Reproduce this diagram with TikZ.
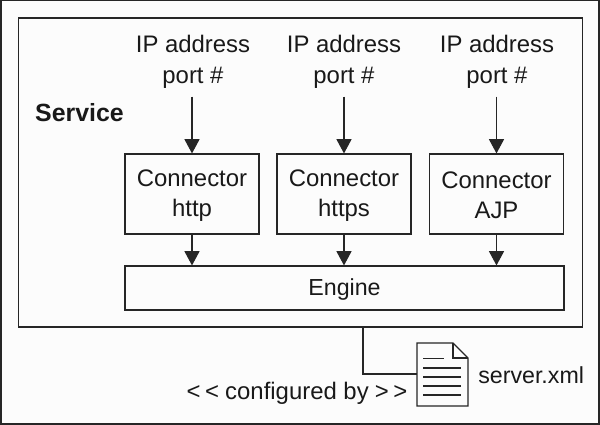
\documentclass[tikz,border=0pt]{standalone}
\usepackage{fontspec}
\setmainfont{Liberation Sans}
\usetikzlibrary{arrows.meta}

\newcommand{\topStrut}[1]{\rule{0pt}{#1}}

\tikzstyle{bagText} = [align = center, inner sep = 0pt,
                       text = black!90,
                       font = \fontsize{17}{22}\selectfont
                       ]
\tikzstyle{bagBox} = [bagText, draw = black!85, line width = 0.8pt,
                      minimum height = 2cm, minimum width = 3.35cm,
                      font = \fontsize{17}{21.5}\selectfont
                      ]
\tikzstyle{bagArrow} = [draw = black!85, line width = 0.8pt,
                        -{Triangle[length = 3.6mm, width = 3.8mm]}
                        ]
\tikzstyle{bagLine} = [draw = black!85, line width = 0.8pt]

\begin{document}
\begin{tikzpicture}[x = 0.025cm, y = -0.025cm]

    \useasboundingbox (0, 0) rectangle (600, 425);

    %%% Frames
    \path[fill = black!1] (0, 0) rectangle (600, 425);
    \draw[bagLine] (1, 0.5) rectangle (599, 424);
    \node (service) at (300.5, 172.5) [bagBox, minimum width = 14.075cm, minimum height = 7.725cm]{};
    \node (serviceL) at (79.5, 113) [bagText, font = \fontsize{17.7}{22}\selectfont]{\textbf{Service}};

    %%% Connectors
    \node (con1) at (192, 194) [bagBox]{\topStrut{14pt}Connector\\http};
    \node (con2) at (344, 194) [bagBox]{\topStrut{14pt}Connector\\https};
    \node (con3) at (496.5, 194) [bagBox]{\topStrut{14pt}Connector\\AJP};
    \node (engine) at (344.5, 288) [bagBox, minimum width = 10.975cm, minimum height = 1.1cm, font = \fontsize{16.5}{22}\selectfont]{\topStrut{14pt}Engine};

    %%% Addresses
    \node (ip1) at (193, 62) [bagText, inner ysep = 5.5pt]{IP address\\port \#};
    \node (ip2) at (344, 62) [bagText, inner ysep = 5.5pt]{IP address\\port \#};
    \node (ip3) at (497, 62) [bagText, inner ysep = 5.5pt]{IP address\\port \#};

    %%% Arrows
    % Address to connector
    \draw[bagArrow] (ip1.south -| con1.north) -- (con1.north);
    \draw[bagArrow] (ip2.south -| con2.north) -- (con2.north);
    \draw[bagArrow] (ip3.south -| con3.north) -- (con3.north);

    % Connector to engine
    \draw[bagArrow] (con1.south) -- (con1.south |- engine.north);
    \draw[bagArrow] (con2.south) -- (con2.south |- engine.north);
    \draw[bagArrow] (con3.south) -- (con3.south |- engine.north);

    %%% Configuration file
    \coordinate (cfgTop) at (363, 327);
    \coordinate (docWest) at (417, 374);
    \draw[bagLine] (cfgTop) |- (docWest);

    % Document
    \draw[bagLine, line join = miter] (417, 343) -- (453, 343) -- (468, 358) -- (468, 406) -- (417, 406) -- cycle;
    \draw[bagLine] (453, 343) -- (453, 358) -- (468, 358);
    \draw[bagLine] (423, 358.5) -- (444, 358.5);
    \foreach \y in {368, 377, 386, 395}
        \draw[bagLine] (423, \y) -- (461, \y);

    \node (xml) at (478, 375) [bagText, anchor = west, font = \fontsize{16.5}{22}\selectfont]{server.xml};
    \node (cfg) at (297, 393.5) [bagText]{<\kern3.3pt<\kern4.3pt configured by\kern4.3pt>\kern3.3pt>};

\end{tikzpicture}
\end{document}
